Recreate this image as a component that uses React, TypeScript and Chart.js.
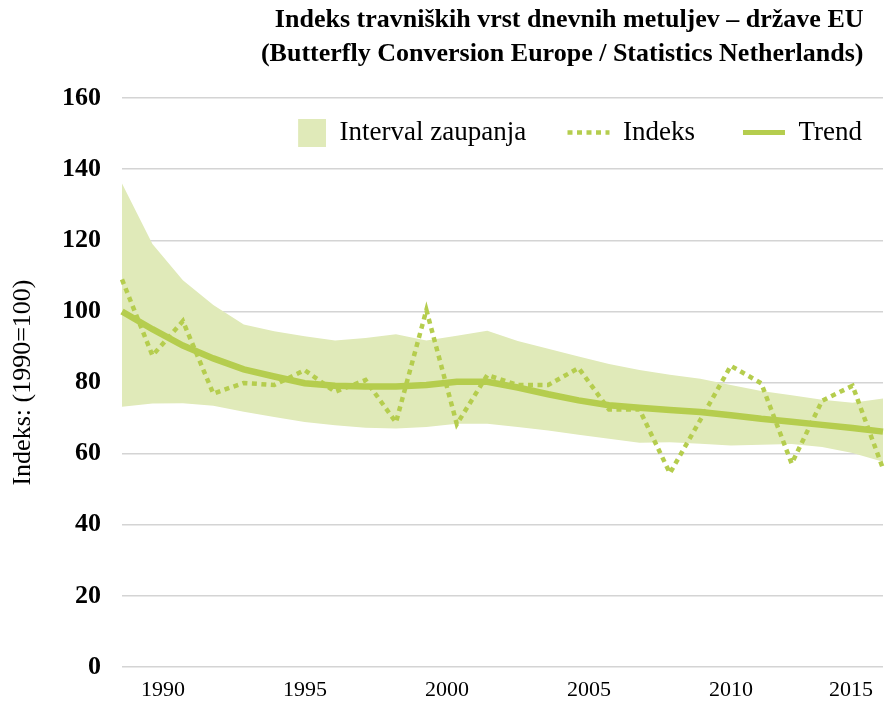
import React, { useEffect, useRef } from "react";
import { Chart, registerables } from "chart.js";

Chart.register(...registerables);

const years = [
  "1990", "1991", "1992", "1993", "1994", "1995", "1996", "1997", "1998", "1999",
  "2000", "2001", "2002", "2003", "2004", "2005", "2006", "2007", "2008", "2009",
  "2010", "2011", "2012", "2013", "2014", "2015",
];

const indeks = [
  109.0, 87.6, 97.3, 76.9, 79.9, 79.3, 83.5, 77.4, 80.7, 68.8,
  100.4, 68.3, 82.1, 79.3, 79.3, 84.1, 72.4, 72.4, 54.5, 69.5,
  84.7, 79.8, 57.2, 74.9, 79.1, 55.8,
];

const trend = [
  100, 95, 90.4, 86.8, 83.7, 81.7, 79.8, 79.1, 78.9, 78.9,
  79.3, 80.2, 80.2, 78.6, 76.7, 75.0, 73.6, 72.9, 72.3, 71.7,
  70.8, 69.8, 69.0, 68.1, 67.2, 66.2,
];

const upper = [
  136, 119, 108.8, 101.8, 96.3, 94.4, 93, 91.8, 92.5, 93.6,
  91.8, 93.2, 94.6, 91.7, 89.5, 87.3, 85.2, 83.5, 82.2, 81.1,
  79.3, 77.6, 76.4, 75.2, 74.3, 75.5,
];

const lower = [
  73.2, 74.1, 74.2, 73.5, 71.8, 70.3, 68.9, 68.0, 67.3, 67.1,
  67.5, 68.4, 68.4, 67.5, 66.5, 65.3, 64.2, 63.1, 63.2, 62.8,
  62.3, 62.5, 62.7, 61.9, 60.2, 57.7,
];

const tickYears = [1990, 1995, 2000, 2005, 2010, 2015];

const titleLines = [
  "Indeks travniških vrst dnevnih metuljev – države EU   ",
  "(Butterfly Conversion Europe / Statistics Netherlands)   ",
];
const yTitle = "Indeks: (1990=100)";
const legendNames = ["Interval zaupanja   ", "Indeks    ", "Trend"];

const LINE = "#b5cd4e";
const BAND = "#e0eab9";
const FONT = "'Liberation Serif', 'Times New Roman', serif";

// Moves the (zero-height) top legend into the top of the plot area.
const legendInPlot = {
  id: "legendInPlot",
  afterLayout(chart: any) {
    const lg = chart.legend;
    if (!lg) return;
    lg.top = chart.chartArea.top;
    lg.height = 70;
    lg.bottom = lg.top + lg.height;
    lg.adjustHitBoxes();
  },
};

export default function App() {
  const ref = useRef<HTMLCanvasElement | null>(null);

  useEffect(() => {
    if (!ref.current) return;
    const box = document.createElement("canvas");
    box.width = 42;
    box.height = 28;
    const bctx = box.getContext("2d");
    if (bctx) {
      bctx.fillStyle = BAND;
      bctx.fillRect(14, 0, 28, 28);
    }

    const chart = new Chart(ref.current, {
      type: "line",
      plugins: [legendInPlot],
      data: {
        labels: years,
        datasets: [
          {
            label: legendNames[0],
            data: upper,
            borderWidth: 0,
            borderColor: "rgba(0,0,0,0)",
            backgroundColor: BAND,
            pointRadius: 0,
            fill: 3,
            order: 3,
            xAxisID: "x",
          },
          {
            label: legendNames[1],
            data: indeks,
            borderColor: LINE,
            borderWidth: 4.5,
            borderDash: [5, 4.5],
            pointRadius: 0,
            fill: false,
            order: 1,
            xAxisID: "x",
          },
          {
            label: legendNames[2],
            data: trend,
            borderColor: LINE,
            borderWidth: 6.5,
            pointRadius: 0,
            fill: false,
            order: 0,
            xAxisID: "x",
          },
          {
            label: "lower",
            data: lower,
            borderWidth: 0,
            borderColor: "rgba(0,0,0,0)",
            pointRadius: 0,
            fill: false,
            order: 4,
            xAxisID: "x",
          },
        ],
      },
      options: {
        animation: false,
        responsive: true,
        maintainAspectRatio: false,
        layout: { padding: { top: 0, left: 0, right: 8, bottom: 6.6 } },
        plugins: {
          tooltip: { enabled: false },
          title: {
            display: true,
            text: titleLines,
            align: "end",
            color: "#000",
            font: { family: FONT, size: 26, weight: "bold", lineHeight: 1.31 },
            padding: { top: 3, bottom: 26 },
          },
          legend: {
            position: "top",
            align: "end",
            maxHeight: 1,
            labels: {
              usePointStyle: true,
              pointStyleWidth: 42,
              padding: 21,
              color: "#000",
              font: { family: FONT, size: 27 },
              generateLabels: () => [
                {
                  text: legendNames[0],
                  pointStyle: box,
                  fillStyle: BAND,
                  strokeStyle: "rgba(0,0,0,0)",
                  lineWidth: 0,
                  hidden: false,
                  datasetIndex: 0,
                  fontColor: "#000",
                },
                {
                  text: legendNames[1],
                  pointStyle: "line",
                  fillStyle: LINE,
                  strokeStyle: LINE,
                  lineWidth: 4.5,
                  lineDash: [5, 4.5],
                  hidden: false,
                  datasetIndex: 1,
                  fontColor: "#000",
                },
                {
                  text: legendNames[2],
                  pointStyle: "line",
                  fillStyle: LINE,
                  strokeStyle: LINE,
                  lineWidth: 5,
                  hidden: false,
                  datasetIndex: 2,
                  fontColor: "#000",
                },
              ],
            },
          },
        },
        scales: {
          x: {
            type: "category",
            display: false,
            offset: false,
          },
          x2: {
            type: "linear",
            position: "bottom",
            min: 1988.556,
            max: 2015.35,
            grid: { display: false, drawTicks: false },
            border: { display: false },
            afterBuildTicks: (scale: any) => {
              scale.ticks = [{ value: scale.min }].concat(
                tickYears.map((v) => ({ value: v }))
              );
            },
            ticks: {
              autoSkip: false,
              maxRotation: 0,
              align: "inner",
              padding: 10,
              color: "#000",
              font: { family: FONT, size: 22 },
              callback: (v: any, i: number) => (i === 0 ? "" : String(v)),
            },
          },
          y: {
            min: 0,
            max: 160,
            afterFit: (scale: any) => {
              scale.width = 122;
            },
            grid: { color: "#d4d4d4", lineWidth: 1.5, drawTicks: false },
            border: { display: false },
            ticks: {
              stepSize: 20,
              padding: 21,
              color: "#000",
              font: { family: FONT, size: 26, weight: "bold" },
            },
            title: {
              display: true,
              text: yTitle,
              color: "#000",
              font: { family: FONT, size: 26 },
              padding: { top: 8, bottom: 0 },
            },
          },
        },
      },
    });
    return () => chart.destroy();
  }, []);

  return (
    <div style={{ position: "absolute", left: 0, top: 0, width: 891, height: 720, background: "#fff" }}>
      <canvas ref={ref} />
    </div>
  );
}
